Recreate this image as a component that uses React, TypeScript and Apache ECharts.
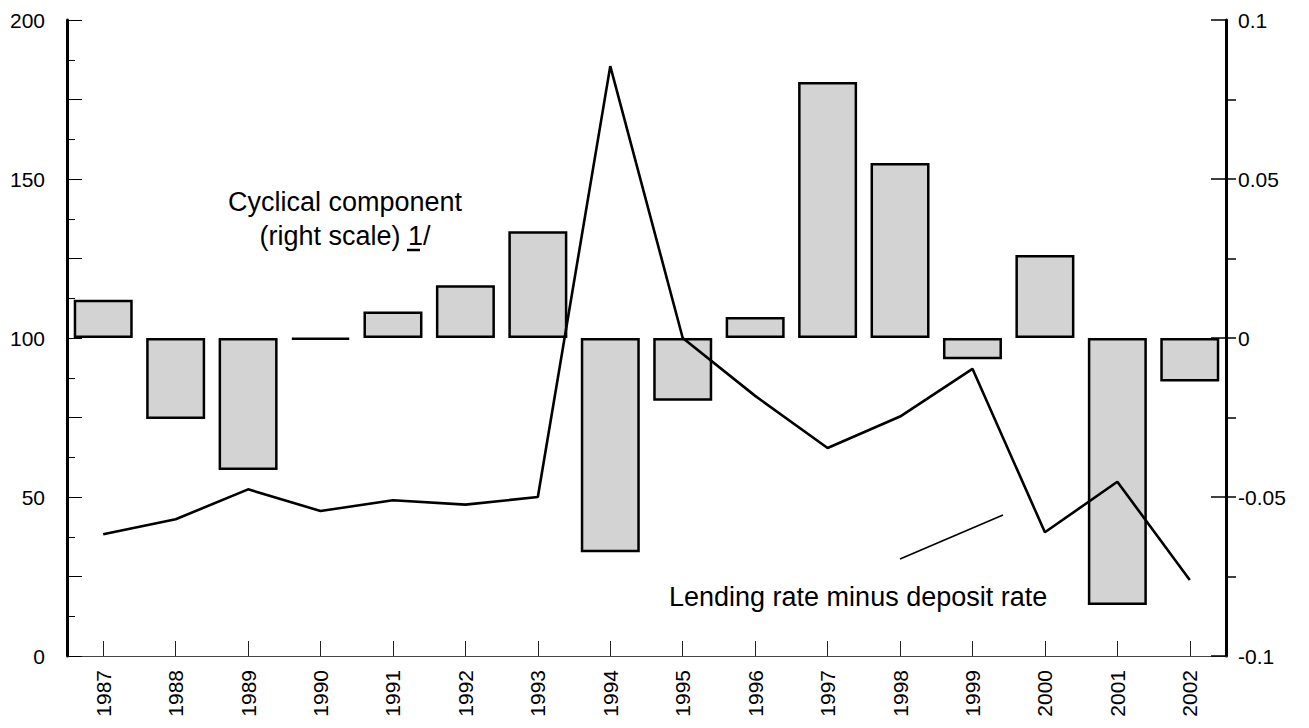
import React, { useEffect, useRef } from 'react';
import * as echarts from 'echarts';

const years = ['1987', '1988', '1989', '1990', '1991', '1992', '1993', '1994', '1995', '1996', '1997', '1998', '1999', '2000', '2001', '2002'];
// Cyclical component (right scale)
const cyclicalComponent = [0.012, -0.0255, -0.0415, -0.0005, 0.0083, 0.0166, 0.0336, -0.0674, -0.0197, 0.0066, 0.0805, 0.055, -0.0067, 0.0261, -0.084, -0.0137];
// Lending rate minus deposit rate (left scale)
const lendingMinusDeposit = [38.3, 43.0, 52.4, 45.6, 49.0, 47.6, 50.0, 185.5, 100, 81.8, 65.4, 75.3, 90.3, 38.9, 54.8, 23.9];
const rightMinorTicks = [-0.075, -0.05, -0.025, 0, 0.025, 0.05, 0.075];

const FONT = 'Arial, "Liberation Sans", Helvetica, sans-serif';

export default function App() {
  const ref = useRef<HTMLDivElement>(null);
  useEffect(() => {
    const chart = echarts.init(ref.current as HTMLDivElement, null, { renderer: 'svg' });
    chart.setOption({
      animation: false,
      backgroundColor: '#ffffff',
      textStyle: { fontFamily: FONT },
      grid: { left: 67, right: 83, top: 20, bottom: 72, containLabel: false },
      xAxis: {
        type: 'category',
        data: years,
        boundaryGap: true,
        axisLine: { show: true, lineStyle: { color: '#444', width: 1 } },
        axisTick: { show: true, alignWithLabel: true, inside: true, length: 15, lineStyle: { color: '#222', width: 1 } },
        axisLabel: { rotate: 90, fontSize: 21, color: '#000', margin: 14, fontFamily: FONT },
        splitLine: { show: false },
      },
      yAxis: [
        {
          type: 'value',
          position: 'left',
          min: 0,
          max: 200,
          interval: 25,
          axisLine: { show: true, lineStyle: { color: '#000', width: 3 } },
          axisTick: { show: true, inside: true, length: 15, lineStyle: { color: '#000', width: 1 } },
          minorTick: { show: true, splitNumber: 2, length: 8, lineStyle: { color: '#000', width: 1 } },
          axisLabel: {
            fontSize: 21,
            color: '#000',
            margin: 22,
            fontFamily: FONT,
            formatter: (v: number) => (v % 50 === 0 ? String(v) : ''),
          },
          splitLine: { show: false },
        },
        {
          type: 'value',
          position: 'right',
          min: -0.1,
          max: 0.1,
          interval: 0.05,
          axisLine: { show: true, lineStyle: { color: '#000', width: 3 } },
          axisTick: { show: true, inside: false, length: 10, customValues: rightMinorTicks, lineStyle: { color: '#000', width: 1.5 } },
          axisLabel: { fontSize: 21, color: '#000', margin: 12, fontFamily: FONT },
          splitLine: { show: false },
        },
        {
          type: 'value',
          position: 'right',
          min: -0.1,
          max: 0.1,
          interval: 0.05,
          axisLine: { show: false },
          axisTick: { show: true, inside: true, length: 15, lineStyle: { color: '#000', width: 1.5 } },
          axisLabel: { show: false },
          splitLine: { show: false },
        },
      ],
      series: [
        {
          name: 'Cyclical component',
          type: 'bar',
          yAxisIndex: 1,
          data: cyclicalComponent,
          barWidth: 59,
          itemStyle: { color: '#d3d3d3', borderColor: '#000', borderWidth: 2.5 },
          z: 2,
        },
        {
          name: 'Lending rate minus deposit rate',
          type: 'line',
          yAxisIndex: 0,
          data: lendingMinusDeposit,
          symbol: 'none',
          lineStyle: { color: '#000', width: 2.6 },
          z: 3,
        },
      ],
      graphic: [
        {
          type: 'text',
          x: 345,
          y: 202,
          z: 10,
          style: { text: 'Cyclical component', fontSize: 27, fontFamily: FONT, fill: '#000', align: 'center', verticalAlign: 'middle' },
        },
        {
          type: 'text',
          x: 345,
          y: 235.5,
          z: 10,
          style: { text: '(right scale) 1/', fontSize: 27, fontFamily: FONT, fill: '#000', align: 'center', verticalAlign: 'middle' },
        },
        {
          type: 'line',
          z: 10,
          shape: { x1: 407, y1: 250, x2: 420, y2: 250 },
          style: { stroke: '#000', lineWidth: 2.5 },
        },
        {
          type: 'text',
          x: 669,
          y: 597,
          z: 10,
          style: { text: 'Lending rate minus deposit rate', fontSize: 27, fontFamily: FONT, fill: '#000', align: 'left', verticalAlign: 'middle' },
        },
        {
          type: 'line',
          z: 10,
          shape: { x1: 900, y1: 559, x2: 1003, y2: 515 },
          style: { stroke: '#000', lineWidth: 1.6 },
        },
      ],
    });
    return () => chart.dispose();
  }, []);
  return <div ref={ref} style={{ position: 'fixed', left: 0, top: 0, width: 1309, height: 728 }} />;
}
